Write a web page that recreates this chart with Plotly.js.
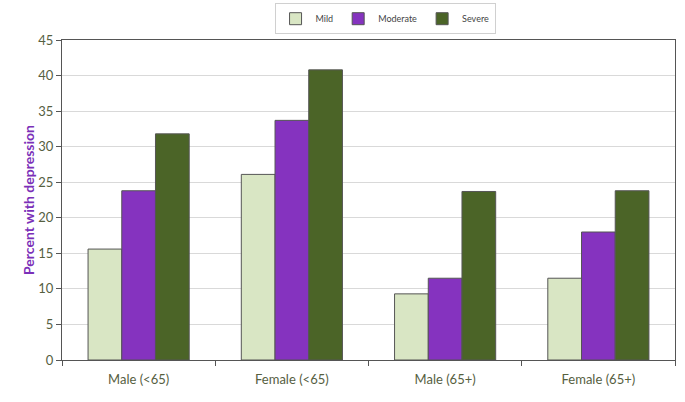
<!DOCTYPE html>
<html>
<head>
<meta charset="utf-8">
<script src="https://cdn.plot.ly/plotly-3.0.1.min.js"></script>
<style>html,body{margin:0;padding:0;background:#fff;}#chart{width:685px;height:402px;}</style>
</head>
<body>
<div id="chart"></div>
<script>
const categories = ["Male (<65)", "Female (<65)", "Male (65+)", "Female (65+)"];
const mild = [15.6, 26.1, 9.3, 11.5];
const moderate = [23.8, 33.7, 11.5, 18.0];
const severe = [31.8, 40.8, 23.7, 23.8];
const yTicks = [0, 5, 10, 15, 20, 25, 30, 35, 40, 45];

const line = {color: "#555555", width: 1};
const traces = [
  {type: "bar", name: "Mild", x: categories, y: mild, marker: {color: "#d9e6c4", line: line}},
  {type: "bar", name: "Moderate", x: categories, y: moderate, marker: {color: "#8533bf", line: line}},
  {type: "bar", name: "Severe", x: categories, y: severe, marker: {color: "#4b6427", line: line}}
];

const tickFont = {family: "Lato, 'Open Sans', sans-serif", size: 13, color: "#56603f"};
const layout = {
  width: 685, height: 402,
  margin: {l: 62, r: 10, t: 40, b: 42, autoexpand: false},
  paper_bgcolor: "#ffffff", plot_bgcolor: "#ffffff",
  barmode: "group", bargap: 0.34, bargroupgap: 0,
  showlegend: true,
  legend: {
    orientation: "h", x: 0.527, xanchor: "center", y: 1.115, yanchor: "top",
    bordercolor: "#d0d0d0", borderwidth: 1,
    font: {family: "Lato, 'Open Sans', sans-serif", size: 9, color: "#444444"},
    itemwidth: 30, traceorder: "normal", tracegroupgap: 0
  },
  xaxis: {
    type: "category", tickfont: tickFont,
    showline: true, linecolor: "#555555", linewidth: 1, mirror: true,
    ticks: "outside", tickson: "boundaries", ticklen: 5, tickcolor: "#555555",
    ticklabelstandoff: 7,
    showgrid: false
  },
  yaxis: {
    range: [0, 45], tickvals: yTicks, tickfont: tickFont,
    showline: true, linecolor: "#555555", linewidth: 1, mirror: true,
    ticks: "outside", ticklen: 5, tickcolor: "#555555",
    showgrid: true, gridcolor: "#d9d9d9", gridwidth: 1, zeroline: false,
    title: {text: "<b>Percent with depression</b>", font: {family: "Lato, 'Open Sans', sans-serif", size: 14, color: "#7b30b8"}, standoff: 0}
  }
};
Plotly.newPlot("chart", traces, layout, {displayModeBar: false, staticPlot: true});
</script>
</body>
</html>
